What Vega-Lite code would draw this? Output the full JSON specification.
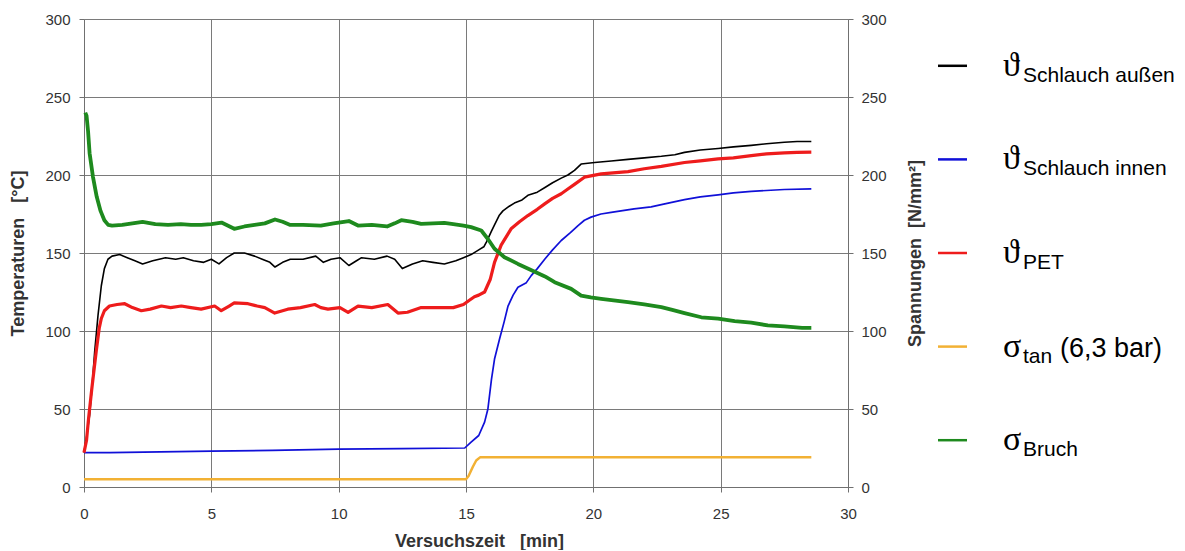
{
"$schema": "https://vega.github.io/schema/vega-lite/v6.json",
"background": "white",
"padding": {"left": 9, "top": 12, "right": 0, "bottom": 0},
"spacing": 7,
"config": {
  "view": {"stroke": null},
  "font": "Liberation Sans",
  "axis": {"domainColor": "#707070", "gridColor": "#7a7a7a", "gridWidth": 1, "tickColor": "#707070", "tickSize": 5, "labelColor": "#333333", "labelFont": "Liberation Sans", "labelFontSize": 15, "titleFont": "Liberation Sans", "titleFontSize": 18, "titleFontWeight": "bold", "titleColor": "#333333"}
},
"datasets": {
"curves": [
{"s":"aussen","t":0,"v":22},{"s":"aussen","t":0.1,"v":32},{"s":"aussen","t":0.22,"v":46},{"s":"aussen","t":0.32,"v":65},{"s":"aussen","t":0.42,"v":87},{"s":"aussen","t":0.55,"v":110},{"s":"aussen","t":0.68,"v":129},{"s":"aussen","t":0.8,"v":140},{"s":"aussen","t":0.94,"v":146},{"s":"aussen","t":1.1,"v":148},{"s":"aussen","t":1.4,"v":149},{"s":"aussen","t":1.7,"v":147},{"s":"aussen","t":2.0,"v":145},{"s":"aussen","t":2.3,"v":143},{"s":"aussen","t":2.7,"v":145},{"s":"aussen","t":3.2,"v":147},{"s":"aussen","t":3.6,"v":146},{"s":"aussen","t":3.9,"v":147},{"s":"aussen","t":4.3,"v":145},{"s":"aussen","t":4.7,"v":144},{"s":"aussen","t":5.0,"v":146},{"s":"aussen","t":5.3,"v":143},{"s":"aussen","t":5.6,"v":147},{"s":"aussen","t":5.9,"v":150},{"s":"aussen","t":6.3,"v":150},{"s":"aussen","t":6.7,"v":148},{"s":"aussen","t":7.0,"v":146},{"s":"aussen","t":7.3,"v":144},{"s":"aussen","t":7.5,"v":141},{"s":"aussen","t":7.8,"v":144},{"s":"aussen","t":8.1,"v":146},{"s":"aussen","t":8.6,"v":146},{"s":"aussen","t":9.1,"v":148},{"s":"aussen","t":9.4,"v":144},{"s":"aussen","t":9.7,"v":146},{"s":"aussen","t":10.05,"v":147},{"s":"aussen","t":10.4,"v":142},{"s":"aussen","t":10.7,"v":145},{"s":"aussen","t":10.9,"v":147},{"s":"aussen","t":11.4,"v":146},{"s":"aussen","t":11.9,"v":148},{"s":"aussen","t":12.2,"v":146},{"s":"aussen","t":12.5,"v":140},{"s":"aussen","t":12.9,"v":143},{"s":"aussen","t":13.3,"v":145},{"s":"aussen","t":13.7,"v":144},{"s":"aussen","t":14.15,"v":143},{"s":"aussen","t":14.6,"v":145},{"s":"aussen","t":14.9,"v":147},{"s":"aussen","t":15.2,"v":149},{"s":"aussen","t":15.5,"v":152},{"s":"aussen","t":15.7,"v":154},{"s":"aussen","t":15.8,"v":157},{"s":"aussen","t":16.0,"v":164},{"s":"aussen","t":16.12,"v":168},{"s":"aussen","t":16.3,"v":174},{"s":"aussen","t":16.45,"v":177},{"s":"aussen","t":16.7,"v":180},{"s":"aussen","t":16.9,"v":182},{"s":"aussen","t":17.2,"v":184},{"s":"aussen","t":17.43,"v":187},{"s":"aussen","t":17.8,"v":189},{"s":"aussen","t":18.1,"v":192},{"s":"aussen","t":18.4,"v":195},{"s":"aussen","t":18.74,"v":198},{"s":"aussen","t":19.0,"v":200},{"s":"aussen","t":19.26,"v":203},{"s":"aussen","t":19.52,"v":207},{"s":"aussen","t":20.05,"v":208},{"s":"aussen","t":20.7,"v":209},{"s":"aussen","t":21.36,"v":210},{"s":"aussen","t":22.0,"v":211},{"s":"aussen","t":22.67,"v":212},{"s":"aussen","t":23.2,"v":213},{"s":"aussen","t":23.58,"v":214.5},{"s":"aussen","t":24.2,"v":216},{"s":"aussen","t":24.9,"v":217},{"s":"aussen","t":25.5,"v":218},{"s":"aussen","t":26.2,"v":219},{"s":"aussen","t":26.8,"v":220},{"s":"aussen","t":27.5,"v":221},{"s":"aussen","t":28.0,"v":221.5},{"s":"aussen","t":28.56,"v":221.5},
{"s":"PET","t":0,"v":22},{"s":"PET","t":0.1,"v":30},{"s":"PET","t":0.18,"v":44},{"s":"PET","t":0.3,"v":62},{"s":"PET","t":0.48,"v":87},{"s":"PET","t":0.6,"v":102},{"s":"PET","t":0.68,"v":108},{"s":"PET","t":0.8,"v":113},{"s":"PET","t":1.0,"v":116},{"s":"PET","t":1.3,"v":117},{"s":"PET","t":1.6,"v":117.5},{"s":"PET","t":1.9,"v":115},{"s":"PET","t":2.25,"v":113},{"s":"PET","t":2.6,"v":114},{"s":"PET","t":3.04,"v":116},{"s":"PET","t":3.4,"v":115},{"s":"PET","t":3.82,"v":116},{"s":"PET","t":4.2,"v":115},{"s":"PET","t":4.6,"v":114},{"s":"PET","t":5.13,"v":116},{"s":"PET","t":5.39,"v":113},{"s":"PET","t":5.7,"v":116},{"s":"PET","t":5.9,"v":118},{"s":"PET","t":6.44,"v":117.5},{"s":"PET","t":6.8,"v":116},{"s":"PET","t":7.1,"v":115},{"s":"PET","t":7.49,"v":111.5},{"s":"PET","t":8.0,"v":114},{"s":"PET","t":8.5,"v":115},{"s":"PET","t":9.06,"v":117},{"s":"PET","t":9.3,"v":115},{"s":"PET","t":9.58,"v":114},{"s":"PET","t":10.05,"v":115},{"s":"PET","t":10.37,"v":112},{"s":"PET","t":10.76,"v":116},{"s":"PET","t":11.3,"v":115},{"s":"PET","t":11.93,"v":117},{"s":"PET","t":12.33,"v":111.5},{"s":"PET","t":12.7,"v":112},{"s":"PET","t":13.24,"v":115},{"s":"PET","t":13.7,"v":115},{"s":"PET","t":14.15,"v":115},{"s":"PET","t":14.5,"v":115},{"s":"PET","t":14.9,"v":117},{"s":"PET","t":15.16,"v":120},{"s":"PET","t":15.33,"v":122},{"s":"PET","t":15.5,"v":123},{"s":"PET","t":15.73,"v":125},{"s":"PET","t":15.95,"v":133},{"s":"PET","t":16.12,"v":144},{"s":"PET","t":16.38,"v":155},{"s":"PET","t":16.77,"v":165.5},{"s":"PET","t":17.1,"v":170},{"s":"PET","t":17.43,"v":174},{"s":"PET","t":17.8,"v":178},{"s":"PET","t":18.09,"v":181.5},{"s":"PET","t":18.4,"v":185},{"s":"PET","t":18.74,"v":188},{"s":"PET","t":19.0,"v":191},{"s":"PET","t":19.26,"v":194},{"s":"PET","t":19.65,"v":198.6},{"s":"PET","t":20.31,"v":200.7},{"s":"PET","t":21.36,"v":202.2},{"s":"PET","t":22.0,"v":204},{"s":"PET","t":22.67,"v":205.5},{"s":"PET","t":23.58,"v":208},{"s":"PET","t":24.2,"v":209},{"s":"PET","t":24.9,"v":210.3},{"s":"PET","t":25.5,"v":211},{"s":"PET","t":26.2,"v":212.4},{"s":"PET","t":26.8,"v":213.5},{"s":"PET","t":27.5,"v":214.2},{"s":"PET","t":28.0,"v":214.5},{"s":"PET","t":28.56,"v":214.6},
{"s":"innen","t":0,"v":22},{"s":"innen","t":1.0,"v":22},{"s":"innen","t":3.0,"v":22.5},{"s":"innen","t":5.0,"v":23},{"s":"innen","t":7.4,"v":23.5},{"s":"innen","t":10.0,"v":24.3},{"s":"innen","t":12.46,"v":24.6},{"s":"innen","t":14.95,"v":25},{"s":"innen","t":15.2,"v":28.8},{"s":"innen","t":15.5,"v":33},{"s":"innen","t":15.73,"v":41.6},{"s":"innen","t":15.86,"v":50},{"s":"innen","t":16.0,"v":69},{"s":"innen","t":16.12,"v":82},{"s":"innen","t":16.32,"v":95},{"s":"innen","t":16.5,"v":106},{"s":"innen","t":16.65,"v":116},{"s":"innen","t":16.85,"v":123},{"s":"innen","t":17.04,"v":128},{"s":"innen","t":17.37,"v":131},{"s":"innen","t":17.56,"v":135.5},{"s":"innen","t":17.8,"v":140},{"s":"innen","t":18.09,"v":146},{"s":"innen","t":18.4,"v":152},{"s":"innen","t":18.74,"v":158},{"s":"innen","t":19.1,"v":163},{"s":"innen","t":19.4,"v":167.6},{"s":"innen","t":19.65,"v":171},{"s":"innen","t":19.91,"v":173},{"s":"innen","t":20.3,"v":175},{"s":"innen","t":20.7,"v":176},{"s":"innen","t":21.6,"v":178.3},{"s":"innen","t":22.27,"v":179.6},{"s":"innen","t":22.67,"v":181},{"s":"innen","t":23.58,"v":184.2},{"s":"innen","t":24.2,"v":186},{"s":"innen","t":24.9,"v":187.3},{"s":"innen","t":25.5,"v":188.5},{"s":"innen","t":26.2,"v":189.5},{"s":"innen","t":27.5,"v":190.7},{"s":"innen","t":28.56,"v":191.1},
{"s":"tan","t":0,"v":5},{"s":"tan","t":15.0,"v":5},{"s":"tan","t":15.1,"v":7},{"s":"tan","t":15.27,"v":13},{"s":"tan","t":15.4,"v":17},{"s":"tan","t":15.55,"v":19},{"s":"tan","t":28.56,"v":19},
{"s":"Bruch","t":0.05,"v":240},{"s":"Bruch","t":0.1,"v":238},{"s":"Bruch","t":0.16,"v":228},{"s":"Bruch","t":0.22,"v":214},{"s":"Bruch","t":0.35,"v":199},{"s":"Bruch","t":0.5,"v":186},{"s":"Bruch","t":0.65,"v":177},{"s":"Bruch","t":0.8,"v":171},{"s":"Bruch","t":0.95,"v":168},{"s":"Bruch","t":1.1,"v":167.5},{"s":"Bruch","t":1.5,"v":168},{"s":"Bruch","t":1.9,"v":169},{"s":"Bruch","t":2.3,"v":170},{"s":"Bruch","t":2.8,"v":168.5},{"s":"Bruch","t":3.3,"v":168},{"s":"Bruch","t":3.8,"v":168.5},{"s":"Bruch","t":4.2,"v":168},{"s":"Bruch","t":4.6,"v":168},{"s":"Bruch","t":5.0,"v":168.5},{"s":"Bruch","t":5.4,"v":169.5},{"s":"Bruch","t":5.9,"v":165.5},{"s":"Bruch","t":6.3,"v":167},{"s":"Bruch","t":6.7,"v":168},{"s":"Bruch","t":7.1,"v":169},{"s":"Bruch","t":7.5,"v":171.5},{"s":"Bruch","t":7.8,"v":170},{"s":"Bruch","t":8.1,"v":168},{"s":"Bruch","t":8.6,"v":168},{"s":"Bruch","t":9.3,"v":167.6},{"s":"Bruch","t":9.8,"v":169},{"s":"Bruch","t":10.4,"v":170.5},{"s":"Bruch","t":10.76,"v":167.6},{"s":"Bruch","t":11.3,"v":168},{"s":"Bruch","t":11.9,"v":167},{"s":"Bruch","t":12.2,"v":169},{"s":"Bruch","t":12.46,"v":171},{"s":"Bruch","t":12.9,"v":170},{"s":"Bruch","t":13.24,"v":168.7},{"s":"Bruch","t":13.7,"v":169},{"s":"Bruch","t":14.15,"v":169.3},{"s":"Bruch","t":14.5,"v":168.5},{"s":"Bruch","t":14.9,"v":167.6},{"s":"Bruch","t":15.2,"v":166.6},{"s":"Bruch","t":15.6,"v":164.4},{"s":"Bruch","t":15.86,"v":159},{"s":"Bruch","t":16.12,"v":152.7},{"s":"Bruch","t":16.51,"v":147.3},{"s":"Bruch","t":17.04,"v":143},{"s":"Bruch","t":17.7,"v":138},{"s":"Bruch","t":18.1,"v":135},{"s":"Bruch","t":18.48,"v":131.3},{"s":"Bruch","t":19.13,"v":127},{"s":"Bruch","t":19.52,"v":122.7},{"s":"Bruch","t":19.9,"v":121.5},{"s":"Bruch","t":20.31,"v":120.6},{"s":"Bruch","t":21.36,"v":118.5},{"s":"Bruch","t":22.0,"v":117},{"s":"Bruch","t":22.67,"v":115.3},{"s":"Bruch","t":23.1,"v":113.5},{"s":"Bruch","t":23.58,"v":111.5},{"s":"Bruch","t":24.24,"v":108.8},{"s":"Bruch","t":24.9,"v":108},{"s":"Bruch","t":25.55,"v":106.3},{"s":"Bruch","t":26.2,"v":105.3},{"s":"Bruch","t":26.85,"v":103.6},{"s":"Bruch","t":27.5,"v":103},{"s":"Bruch","t":28.2,"v":102},{"s":"Bruch","t":28.56,"v":102}
],
"legend": [
{"s":"aussen","sym":"ϑ","sub":"Schlauch außen","rest":""},
{"s":"innen","sym":"ϑ","sub":"Schlauch innen","rest":""},
{"s":"PET","sym":"ϑ","sub":"PET","rest":""},
{"s":"tan","sym":"σ","sub":"tan","rest":"(6,3 bar)"},
{"s":"Bruch","sym":"σ","sub":"Bruch","rest":""}
]
},
"hconcat": [
{
  "width": 764, "height": 468,
  "data": {"name": "curves"},
  "encoding": {
    "x": {"field": "t", "type": "quantitative", "scale": {"domain": [0, 30], "nice": false, "zero": false},
          "axis": {"values": [0, 5, 10, 15, 20, 25, 30], "title": "Versuchszeit\u00a0\u00a0\u00a0[min]", "grid": true, "labelPadding": 14, "titlePadding": 11, "titleX": 395, "labelFlush": false}},
    "color": {"field": "s", "type": "nominal", "scale": {"domain": ["aussen", "innen", "PET", "tan", "Bruch"], "range": ["#000000", "#1010d8", "#ee1c1c", "#f2b134", "#1e8a1e"]}, "legend": null}
  },
  "layer": [
    {
      "encoding": {
        "y": {"field": "v", "type": "quantitative", "scale": {"domain": [0, 300], "nice": false},
              "axis": {"orient": "left", "values": [0, 50, 100, 150, 200, 250, 300], "title": "Temperaturen\u00a0\u00a0\u00a0[°C]", "grid": true, "labelPadding": 9, "titlePadding": 17}}
      },
      "layer": [
        {"transform": [{"filter": "datum.s == 'aussen'"}], "mark": {"type": "line", "strokeWidth": 1.6, "strokeJoin": "round"}},
        {"transform": [{"filter": "datum.s == 'innen'"}], "mark": {"type": "line", "strokeWidth": 1.7, "strokeJoin": "round"}},
        {"transform": [{"filter": "datum.s == 'PET'"}], "mark": {"type": "line", "strokeWidth": 3.2, "strokeJoin": "round"}}
      ]
    },
    {
      "encoding": {
        "y": {"field": "v", "type": "quantitative", "scale": {"domain": [0, 300], "nice": false},
              "axis": {"orient": "right", "values": [0, 50, 100, 150, 200, 250, 300], "title": "Spannungen\u00a0\u00a0[N/mm²]", "grid": false, "labelPadding": 8, "titlePadding": 38, "titleAngle": 270}}
      },
      "layer": [
        {"transform": [{"filter": "datum.s == 'tan'"}], "mark": {"type": "line", "strokeWidth": 2.5, "strokeJoin": "round"}},
        {"transform": [{"filter": "datum.s == 'Bruch'"}], "mark": {"type": "line", "strokeWidth": 3.8, "strokeJoin": "round"}}
      ]
    }
  ],
  "resolve": {"scale": {"y": "independent"}}
},
{
  "width": 250, "height": 468,
  "data": {"name": "legend"},
  "encoding": {
    "y": {"field": "s", "type": "nominal", "sort": ["aussen", "innen", "PET", "tan", "Bruch"], "scale": {"type": "point", "padding": 0.5}, "axis": null}
  },
  "layer": [
    {
      "mark": {"type": "rule", "strokeWidth": 2.5},
      "encoding": {
        "x": {"datum": 6, "type": "quantitative", "scale": {"domain": [0, 250], "nice": false, "zero": false}, "axis": null},
        "x2": {"datum": 35},
        "color": {"field": "s", "type": "nominal", "scale": {"domain": ["aussen", "innen", "PET", "tan", "Bruch"], "range": ["#000000", "#1010d8", "#ee1c1c", "#f2b134", "#1e8a1e"]}, "legend": null}
      }
    },
    {
      "mark": {"type": "text", "align": "left", "baseline": "alphabetic", "dy": 10, "font": "Liberation Serif", "fontSize": 34, "color": "#000000"},
      "encoding": {"x": {"datum": 71, "type": "quantitative"}, "text": {"field": "sym"}}
    },
    {
      "mark": {"type": "text", "align": "left", "baseline": "alphabetic", "dy": 16, "font": "Liberation Sans", "fontSize": 21, "color": "#000000"},
      "encoding": {"x": {"datum": 91, "type": "quantitative"}, "text": {"field": "sub"}}
    },
    {
      "transform": [{"filter": "datum.rest != ''"}],
      "mark": {"type": "text", "align": "left", "baseline": "alphabetic", "dy": 10, "font": "Liberation Sans", "fontSize": 27, "color": "#000000"},
      "encoding": {"x": {"datum": 128, "type": "quantitative"}, "text": {"field": "rest"}}
    }
  ]
}
]
}
